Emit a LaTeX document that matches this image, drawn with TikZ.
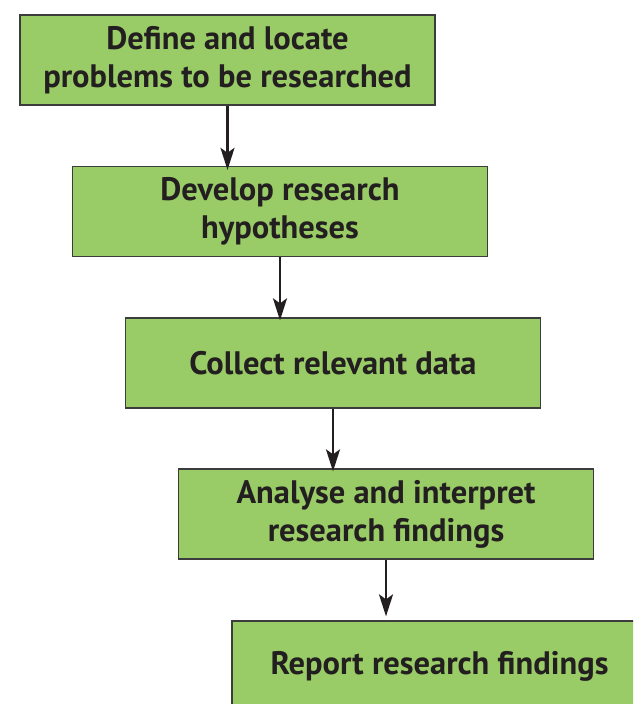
\documentclass[tikz,border=0pt]{standalone}
\usepackage{fontspec}
\setmainfont{PT Sans}
\usetikzlibrary{arrows.meta}
\definecolor{boxgreen}{RGB}{153,204,102}
\definecolor{boxline}{RGB}{60,60,60}
\definecolor{ink}{RGB}{35,31,32}
\tikzset{
	stepbox/.style={draw=boxline,line width=1.3pt,fill=boxgreen,minimum width=415pt,minimum height=90pt,
		align=center,inner sep=0pt,text=ink,font=\fontsize{32.5}{38}\selectfont\bfseries},
	steparrow/.style={-{Stealth[length=22pt,width=14pt,inset=5pt]},line width=2.3pt,draw=ink}
}
\begin{document}
\begin{tikzpicture}[x=1pt,y=-1pt]
				\clip (0,0) rectangle (633,704);
				%\draw [help lines] (0,0) grid (633,704);
				\node[stepbox] (define) at (227.5,60) {Define and locate\\problems to be researched};
				\node[stepbox] (develop) at (280,211.5) {Develop research\\hypotheses};
				\node[stepbox] (collect) at (333,363) {Collect relevant data};
				\node[stepbox] (analyse) at (386,514) {Analyse and interpret\\research findings};
				\node[stepbox] (report) at (439.5,666) {Report research findings};
				\draw[steparrow] (define.south) -- ([yshift=-4pt]define.south |- develop.north);
				\draw[steparrow] (develop.south) -- ([yshift=-3pt]develop.south |- collect.north);
				\draw[steparrow] (collect.south) -- ([yshift=-3pt]collect.south |- analyse.north);
				\draw[steparrow] (analyse.south) -- ([yshift=4pt]analyse.south |- report.north);
\end{tikzpicture}
\end{document}
